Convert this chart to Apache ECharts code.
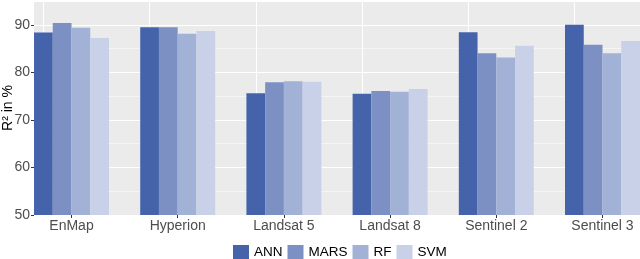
<!DOCTYPE html>
<html><head><meta charset="utf-8">
<script src="https://cdn.jsdelivr.net/npm/echarts@6/dist/echarts.min.js"></script>
<style>html,body{margin:0;padding:0;background:#fff}#c{width:640px;height:259px}</style>
</head><body><div id="c"></div>
<script>
const categories = ['EnMap', 'Hyperion', 'Landsat 5', 'Landsat 8', 'Sentinel 2', 'Sentinel 3'];
const seriesNames = ['ANN', 'MARS', 'RF', 'SVM'];
const ann  = [88.4, 89.5, 75.6, 75.5, 88.45, 90.0];
const mars = [90.35, 89.5, 77.9, 76.1, 84.0, 85.8];
const rf   = [89.4, 88.1, 78.1, 75.9, 83.1, 84.0];
const svm  = [87.2, 88.7, 78.0, 76.5, 85.6, 86.6];
const yMin = 50, yMax = 95, yMajor = 10, yMinor = 5;

const colors = ['#4563AB', '#7D90C3', '#A2B1D6', '#C8D1E7'];
const font = 'Liberation Sans, Arial, sans-serif';
const values = [ann, mars, rf, svm];

const chart = echarts.init(document.getElementById('c'), null, {renderer: 'canvas'});
const series = seriesNames.map((n, i) => ({
  name: n, type: 'bar', xAxisIndex: 0, yAxisIndex: 0,
  data: values[i], barGap: '0%', barCategoryGap: '29.4%',
  itemStyle: {color: colors[i]}, z: 2,
  markLine: i === 0 ? {
    z: 1, silent: true, symbol: ['none', 'none'], animation: false,
    label: {show: false},
    lineStyle: {color: '#ffffff', width: 1.1, type: 'solid'},
    data: categories.map(c => ({xAxis: c}))
  } : undefined
}));

chart.setOption({
  animation: false,
  textStyle: {fontFamily: font},
  grid: [
    {left: 18.4, width: 637.2, top: 1, bottom: 44, containLabel: false, outerBoundsMode: 'none'},
    {left: 34, width: 606, top: 1, bottom: 44, show: true, backgroundColor: '#EBEBEB', borderWidth: 0,
     containLabel: false, outerBoundsMode: 'none'}
  ],
  xAxis: [
    {gridIndex: 0, type: 'category', data: categories,
     axisLine: {show: false},
     axisTick: {show: true, alignWithLabel: true, length: 3, lineStyle: {color: '#333333'}},
     axisLabel: {color: '#4D4D4D', fontSize: 14, margin: 4, fontFamily: font},
     splitLine: {show: false}},
    {gridIndex: 1, type: 'value', min: 0, max: 1, show: false}
  ],
  yAxis: [
    {gridIndex: 0, type: 'value', min: yMin, max: yMax, interval: yMajor,
     axisLabel: {show: false}, axisTick: {show: false}, axisLine: {show: false},
     splitLine: {show: true, lineStyle: {color: '#ffffff', width: 1.1}}},
    {gridIndex: 1, type: 'value', min: yMin, max: yMax, interval: yMajor, position: 'left',
     name: 'R² in %', nameLocation: 'middle', nameGap: 19, nameMoveOverlap: false,
     nameTextStyle: {color: '#000000', fontSize: 14, fontFamily: font},
     axisLabel: {color: '#4D4D4D', fontSize: 14, margin: 4, showMaxLabel: false, inside: false, fontFamily: font},
     axisTick: {show: true, length: 3, inside: false, lineStyle: {color: '#333333'}},
     axisLine: {show: false, onZero: false}, splitLine: {show: false}, z: 3},
    {gridIndex: 0, type: 'value', min: yMin, max: yMax, interval: yMinor,
     axisLabel: {show: false}, axisTick: {show: false}, axisLine: {show: false},
     splitLine: {show: true, lineStyle: {color: '#ffffff', width: 0.5}}}
  ],
  legend: {
    data: seriesNames, top: 245, left: 233, icon: 'rect', padding: 0,
    itemWidth: 16, itemHeight: 14, itemGap: 5,
    textStyle: {color: '#000000', fontSize: 13.5, fontFamily: font}
  },
  series: series
});
</script></body></html>
